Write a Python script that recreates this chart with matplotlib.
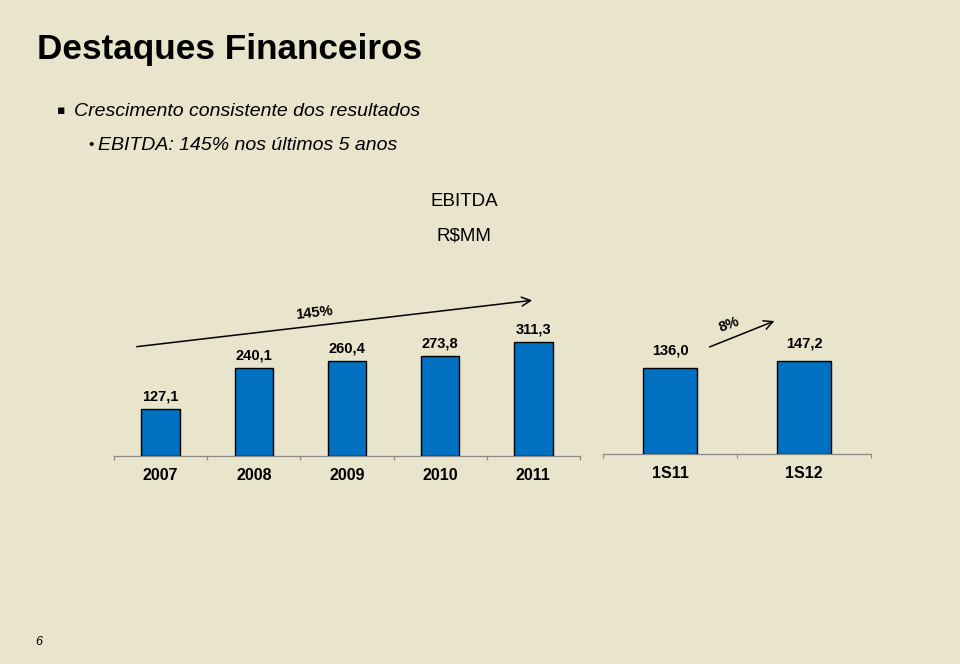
import matplotlib
matplotlib.use("Agg")
import matplotlib.pyplot as plt

plt.rcParams['font.family'] = ['Liberation Sans', 'DejaVu Sans']

# ---- data ----
years = ["2007", "2008", "2009", "2010", "2011"]
ebitda_years = [127.1, 240.1, 260.4, 273.8, 311.3]
halves = ["1S11", "1S12"]
ebitda_halves = [136.0, 147.2]
growth_5y = "145%"
growth_half = "8%"

BG = '#E9E4CC'
BAR = '#0070C0'
W, H = 960, 664

fig = plt.figure(figsize=(9.6, 6.64), dpi=100, facecolor=BG)


def add_px_axes(left, right, base_y, height):
    return fig.add_axes([left / W, 1 - base_y / H, (right - left) / W, height / H])


def fmt(v):
    return f"{v:.1f}".replace('.', ',')


def draw_bars(ax, cats, vals, ymax, width, offset):
    n = len(cats)
    x = list(range(n))
    ax.bar(x, vals, width=width, color=BAR, edgecolor='black', linewidth=1.0, zorder=3)
    ax.set_xlim(-0.5, n - 0.5)
    ax.set_ylim(0, ymax)
    ax.set_facecolor('none')
    for s in ['top', 'right', 'left']:
        ax.spines[s].set_visible(False)
    ax.spines['bottom'].set_color('#8a8a8a')
    ax.spines['bottom'].set_linewidth(0.9)
    ax.set_yticks([])
    ax.set_xticks(x)
    ax.set_xticklabels(cats, fontsize=11.5, fontweight='bold')
    ax.tick_params(axis='x', which='major', length=0, pad=9)
    ax.set_xticks([i - 0.5 for i in range(n + 1)], minor=True)
    ax.tick_params(axis='x', which='minor', length=3, direction='out', color='#8a8a8a', width=0.9)
    for xi, v in zip(x, vals):
        ax.annotate(fmt(v), (xi, v), xytext=(0, offset), textcoords='offset points',
                    ha='center', va='bottom', fontsize=10.5, fontweight='bold')


# left chart (annual)
axL = add_px_axes(114, 580, 456, 350 * 0.3665)
draw_bars(axL, years, ebitda_years, 350, 0.41, 4)

# right chart (half-years)
axR = add_px_axes(603, 871, 454, 200 * 0.635)
draw_bars(axR, halves, ebitda_halves, 200, 0.40, 7)

# growth arrows
fig.add_artist(matplotlib.patches.FancyArrowPatch(
    posA=(134 / W, 1 - 347 / H), posB=(535 / W, 1 - 300 / H), transform=fig.transFigure,
    arrowstyle='->', mutation_scale=16, lw=1.1, color='black'))
fig.text(314 / W, 1 - 313 / H, growth_5y, ha='center', va='center', fontsize=10.5,
         fontweight='bold', rotation=6.5)

fig.add_artist(matplotlib.patches.FancyArrowPatch(
    posA=(707 / W, 1 - 348 / H), posB=(777 / W, 1 - 320 / H), transform=fig.transFigure,
    arrowstyle='->', mutation_scale=16, lw=1.1, color='black'))
fig.text(729 / W, 1 - 325 / H, growth_half, ha='center', va='center', fontsize=10.5,
         fontweight='bold', rotation=20)

# slide texts
fig.text(37 / W, 1 - 50 / H, "Destaques Financeiros", ha='left', va='center',
         fontsize=25.3, fontweight='bold')
fig.text(57 / W, 1 - 111 / H, "\u25aa", ha='left', va='center', fontsize=9,
         family=['DejaVu Sans'])
fig.text(74 / W, 1 - 111 / H, "Crescimento consistente dos resultados", ha='left',
         va='center', fontsize=14, style='italic')
fig.text(88 / W, 1 - 145 / H, "\u2022", ha='left', va='center', fontsize=11)
fig.text(98 / W, 1 - 145 / H, "EBITDA: 145% nos últimos 5 anos", ha='left',
         va='center', fontsize=14, style='italic')
fig.text(464 / W, 1 - 201 / H, "EBITDA", ha='center', va='center', fontsize=13.5)
fig.text(464 / W, 1 - 236 / H, "R$MM", ha='center', va='center', fontsize=13.5)
fig.text(39 / W, 1 - 642 / H, "6", ha='center', va='center', fontsize=9, style='italic')

fig.savefig("out.png", dpi=100, facecolor=BG)
